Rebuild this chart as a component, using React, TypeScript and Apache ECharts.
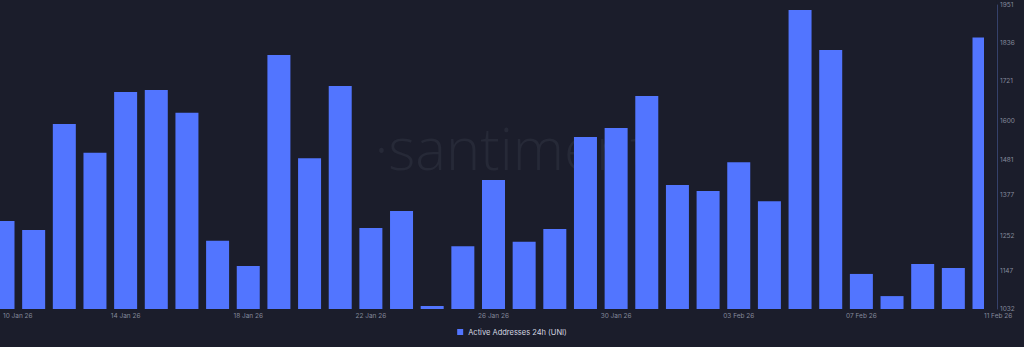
import React, { useEffect, useRef } from "react";
import * as echarts from "echarts";

const dates = [
  "10 Jan 26", "11 Jan 26", "12 Jan 26", "13 Jan 26", "14 Jan 26", "15 Jan 26", "16 Jan 26",
  "17 Jan 26", "18 Jan 26", "19 Jan 26", "20 Jan 26", "21 Jan 26", "22 Jan 26", "23 Jan 26",
  "24 Jan 26", "25 Jan 26", "26 Jan 26", "27 Jan 26", "28 Jan 26", "29 Jan 26", "30 Jan 26",
  "31 Jan 26", "01 Feb 26", "02 Feb 26", "03 Feb 26", "04 Feb 26", "05 Feb 26", "06 Feb 26",
  "07 Feb 26", "08 Feb 26", "09 Feb 26", "10 Feb 26", "11 Feb 26",
];

const activeAddresses = [
  1298, 1271, 1591, 1504, 1688, 1694, 1625, 1238, 1162, 1800, 1488, 1706, 1277, 1328,
  1041, 1222, 1422, 1235, 1274, 1552, 1579, 1676, 1407, 1389, 1476, 1358, 1936, 1815,
  1138, 1071, 1168, 1156, 1853,
];

const yTicks = [1032, 1147, 1252, 1377, 1481, 1600, 1721, 1836, 1951];

const seriesName = "Active Addresses 24h (UNI)";
const BAR = "#5275ff";
const BG = "#1b1d2b";
const LABEL = "#858a9c";
const FONT = "Inter, Roboto, 'Noto Sans', sans-serif";

const GRID_RIGHT = 40;
const AXIS_OFFSET = 13;
const GRID_BOTTOM = 38;

export default function App() {
  const ref = useRef<HTMLDivElement>(null);

  useEffect(() => {
    if (!ref.current) return;
    const chart = echarts.init(ref.current, null, { renderer: "svg" });
    const last = activeAddresses[activeAddresses.length - 1];
    const W = 1024;
    const H = 347;
    chart.setOption({
      animation: false,
      backgroundColor: BG,
      textStyle: { fontFamily: FONT },
      graphic: [
        {
          type: "text",
          left: "center",
          top: 118,
          z: 0,
          silent: true,
          style: {
            text: "·santiment",
            fontSize: 58,
            fontWeight: 300,
            fontFamily: "'Open Sans', 'Noto Sans', sans-serif",
            fill: "#262937",
          },
        },
        {
          // mask so bars are cut at the plot's right edge
          type: "rect",
          z: 50,
          silent: true,
          shape: {
            x: W - GRID_RIGHT,
            y: 0,
            width: AXIS_OFFSET - 0.5,
            height: H - GRID_BOTTOM,
          },
          style: { fill: BG },
        },
      ],
      legend: {
        bottom: 6,
        left: "center",
        itemWidth: 6,
        itemHeight: 6,
        itemGap: 8,
        icon: "rect",
        textStyle: { color: "#d5d8e2", fontSize: 7.5, fontFamily: FONT },
        data: [seriesName],
      },
      grid: { left: 0, right: GRID_RIGHT, top: 5, bottom: GRID_BOTTOM },
      xAxis: {
        type: "category",
        data: dates,
        boundaryGap: false,
        axisLine: { show: false },
        axisTick: { show: false },
        splitLine: { show: false },
        axisLabel: {
          interval: 3,
          color: LABEL,
          fontSize: 6.5,
          margin: 3,
          alignMinLabel: "left",
          alignMaxLabel: "left",
        },
      },
      yAxis: {
        type: "value",
        position: "right",
        offset: AXIS_OFFSET,
        min: 1032,
        max: 1951,
        splitLine: { show: false },
        axisLine: { show: true, lineStyle: { color: "#35416b", width: 1 } },
        axisTick: { show: false },
        axisLabel: {
          customValues: yTicks,
          formatter: (v: number) => String(Math.round(v)),
          color: LABEL,
          fontSize: 6.5,
          margin: 3,
        },
      },
      series: [
        {
          name: seriesName,
          type: "bar",
          data: activeAddresses,
          barWidth: 23,
          clip: true,
          itemStyle: { color: BAR },
          markLine: {
            silent: true,
            symbol: "none",
            z: 60,
            lineStyle: { opacity: 0 },
            data: [{ yAxis: last }],
            label: {
              position: "end",
              distance: 15,
              formatter: String(last),
              color: "#ffffff",
              fontSize: 6.5,
              backgroundColor: BAR,
              padding: [1, 2],
              borderRadius: 1,
            },
          },
        },
      ],
    });
    return () => chart.dispose();
  }, []);

  return (
    <div
      ref={ref}
      style={{ position: "fixed", left: 0, top: 0, width: 1024, height: 347 }}
    />
  );
}
